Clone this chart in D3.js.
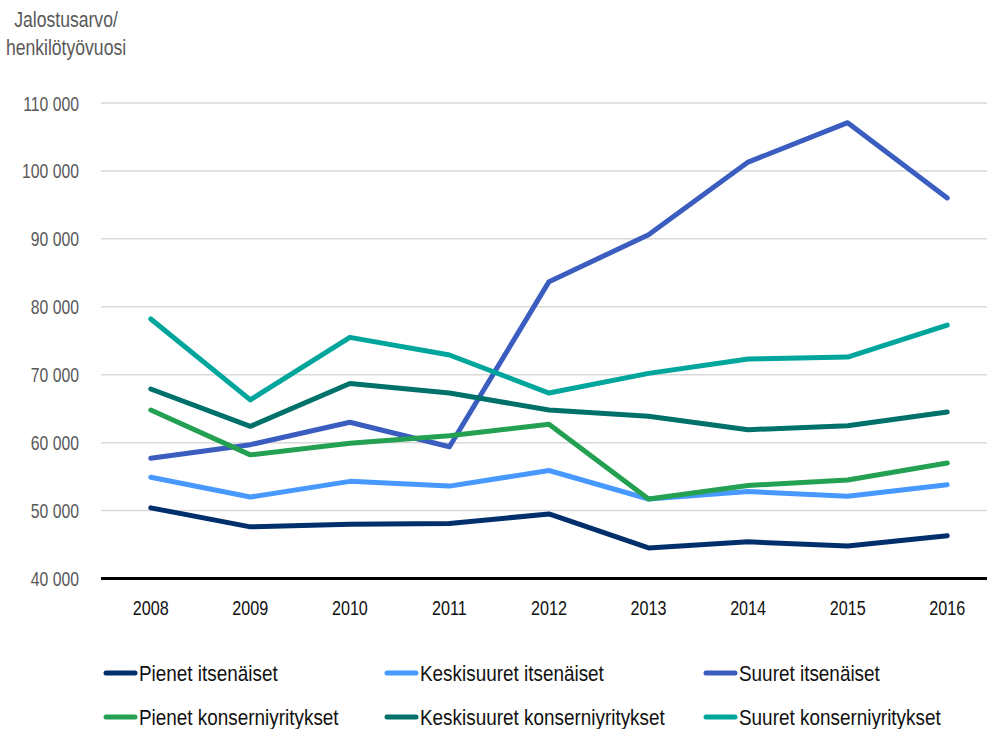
<!DOCTYPE html>
<html>
<head>
<meta charset="utf-8">
<script src="https://cdn.jsdelivr.net/npm/d3@7"></script>
<style>
  body { margin: 0; background: #fff; }
  svg text { font-family: "Liberation Sans", Arial, sans-serif; }
</style>
</head>
<body>
<div id="chart"></div>
<script>
// data
const years = ["2008", "2009", "2010", "2011", "2012", "2013", "2014", "2015", "2016"];
const yTicks = [40000, 50000, 60000, 70000, 80000, 90000, 100000, 110000];

const pienetItsenaiset = [50400, 47600, 48000, 48100, 49500, 44500, 45400, 44800, 46300];
const keskisuuretItsenaiset = [54900, 52000, 54300, 53600, 55900, 51700, 52800, 52100, 53800];
const suuretItsenaiset = [57700, 59700, 63000, 59400, 83700, 90600, 101300, 107100, 96000];
const pienetKonserni = [64800, 58200, 59900, 61000, 62700, 51700, 53700, 54500, 57000];
const keskisuuretKonserni = [67900, 62400, 68700, 67300, 64800, 63900, 61900, 62500, 64500];
const suuretKonserni = [78200, 66300, 75500, 72900, 67300, 70200, 72300, 72600, 77300];

const series = [
  { name: "Pienet itsenäiset", values: pienetItsenaiset, color: "#002f6c" },
  { name: "Keskisuuret itsenäiset", values: keskisuuretItsenaiset, color: "#4799ff" },
  { name: "Suuret itsenäiset", values: suuretItsenaiset, color: "#3a5dbf" },
  { name: "Pienet konserniyritykset", values: pienetKonserni, color: "#23a052" },
  { name: "Keskisuuret konserniyritykset", values: keskisuuretKonserni, color: "#00716a" },
  { name: "Suuret konserniyritykset", values: suuretKonserni, color: "#00a59b" }
];

// === SVG SETUP ===
const width = 987, height = 729;
const svg = d3.select("#chart").append("svg")
  .attr("width", width)
  .attr("height", height);

const x = d3.scalePoint().domain(years).range([101, 997]).padding(0.5);
const y = d3.scaleLinear().domain([40000, 110000]).range([578.5, 103]);

const fmt = v => d3.format(",")(v).replace(/,/g, " ");

// condensed text: the original font is a narrow one, squeeze horizontally
const narrow = (px, py, s) => `translate(${px},${py}) scale(${s},1)`;

// gridlines
svg.append("g")
  .selectAll("line")
  .data(yTicks.filter(t => t > 40000))
  .join("line")
  .attr("x1", 101).attr("x2", width)
  .attr("y1", d => y(d)).attr("y2", d => y(d))
  .attr("stroke", "#d9d9d9")
  .attr("stroke-width", 1.5);

// y labels
svg.append("g")
  .selectAll("text")
  .data(yTicks)
  .join("text")
  .attr("transform", d => narrow(79, y(d) + 7.5, 0.75))
  .attr("text-anchor", "end")
  .attr("font-size", 21)
  .attr("fill", "#595959")
  .text(fmt);

// axis title
svg.append("g")
  .selectAll("text")
  .data(["Jalostusarvo/", "henkilötyövuosi"])
  .join("text")
  .attr("transform", (d, i) => narrow(66, 27 + i * 28, 0.8))
  .attr("text-anchor", "middle")
  .attr("font-size", 22)
  .attr("fill", "#595959")
  .text(d => d);

// x labels
svg.append("g")
  .selectAll("text")
  .data(years)
  .join("text")
  .attr("transform", d => narrow(x(d), 615, 0.77))
  .attr("text-anchor", "middle")
  .attr("font-size", 21)
  .attr("fill", "#111")
  .text(d => d);

// baseline
svg.append("line")
  .attr("x1", 101).attr("x2", width)
  .attr("y1", y(40000)).attr("y2", y(40000))
  .attr("stroke", "#000")
  .attr("stroke-width", 3);

// lines
const line = d3.line()
  .x((d, i) => x(years[i]))
  .y(d => y(d));

svg.append("g")
  .selectAll("path")
  .data(series)
  .join("path")
  .attr("d", d => line(d.values))
  .attr("fill", "none")
  .attr("stroke", d => d.color)
  .attr("stroke-width", 5)
  .attr("stroke-linejoin", "round")
  .attr("stroke-linecap", "round");

// legend
const legendX = [106, 387, 706];
const legendY = [673, 717];
const legend = svg.append("g")
  .selectAll("g")
  .data(series)
  .join("g")
  .attr("transform", (d, i) => `translate(${legendX[i % 3]},${legendY[Math.floor(i / 3)]})`);

legend.append("line")
  .attr("x1", 0).attr("x2", 29)
  .attr("y1", 0).attr("y2", 0)
  .attr("stroke", d => d.color)
  .attr("stroke-width", 5)
  .attr("stroke-linecap", "round");

legend.append("text")
  .attr("transform", narrow(33, 7.5, 0.86))
  .attr("font-size", 22)
  .attr("fill", "#111")
  .text(d => d.name);
</script>
</body>
</html>
